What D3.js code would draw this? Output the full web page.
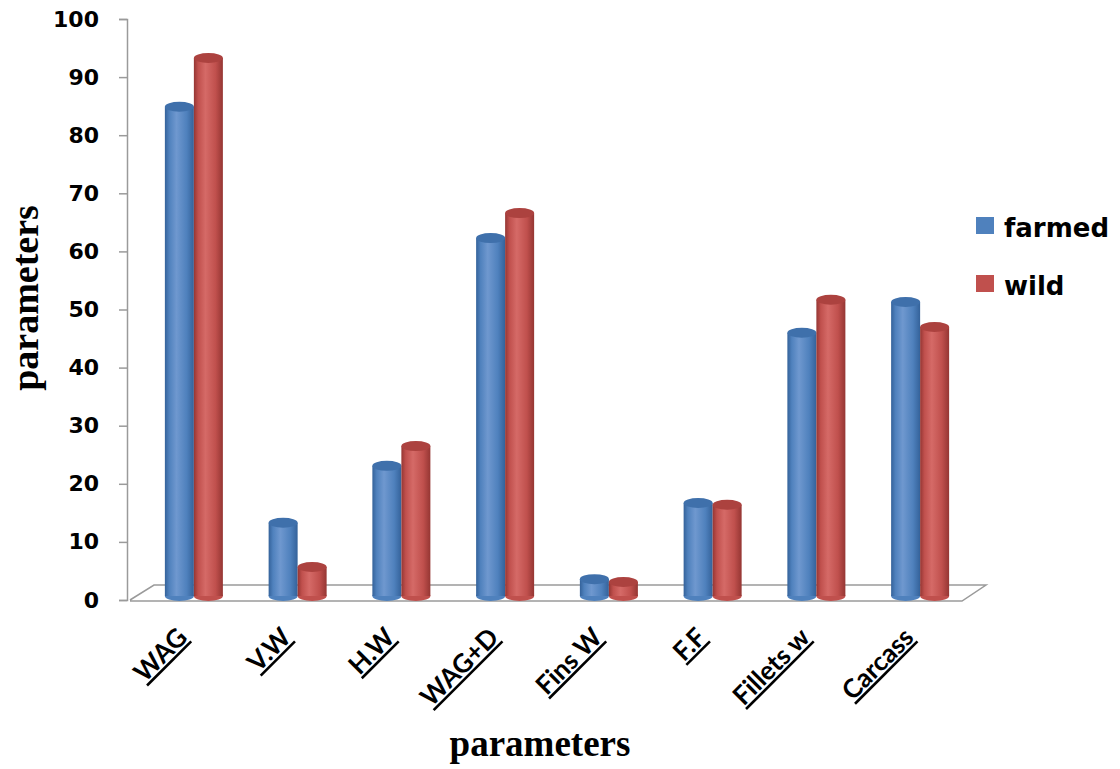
<!DOCTYPE html>
<html lang="en">
    <head>
        <meta charset="utf-8">
        <title>farmed vs wild parameters</title>
        <script type="text/javascript" src="https://cdn.jsdelivr.net/npm/d3@7"></script>
        <style type="text/css">
            body { margin: 0; background: #fff; }
        </style>
    </head>

    <body>
        <script type="text/javascript">
            var categories = ["WAG", "V.W", "H.W", "WAG+D", "Fins W", "F.F", "Fillets w", "Carcass"];
            var farmed = [84.2, 12.6, 22.4, 61.6, 2.9, 16.0, 45.3, 50.6];
            var wild = [92.6, 5.0, 25.8, 65.9, 2.4, 15.7, 51.0, 46.3];
            var yTicks = [0, 10, 20, 30, 40, 50, 60, 70, 80, 90, 100];
            var seriesNames = ["farmed", "wild"];

            var w = 1120;
            var h = 769;
            var svg = d3.select("body")
                        .append("svg")
                        .attr("width", w)
                        .attr("height", h);

            // y scale: 0 sits on the front edge of the floor
            var yScale = d3.scaleLinear()
                            .domain([0, 100])
                            .range([600, 19]);
            var xScale = d3.scaleBand()
                            .domain(categories)
                            .range([142, 972]);
            var depth = 4; // bars stand a little behind the front edge
            var barW = 29;

            var defs = svg.append("defs");
            var colors = {
                farmed: { light: "#6F98CF", mid: "#4F81BD", dark: "#34629A", top: "#3F70AB" },
                wild:   { light: "#D56A67", mid: "#C0504D", dark: "#953633", top: "#AC423F" }
            };
            seriesNames.forEach(function(s) {
                var g = defs.append("linearGradient")
                            .attr("id", "grad-" + s)
                            .attr("x1", "0%").attr("x2", "100%")
                            .attr("y1", "0%").attr("y2", "0%");
                g.append("stop").attr("offset", "0%").attr("stop-color", colors[s].dark);
                g.append("stop").attr("offset", "15%").attr("stop-color", colors[s].mid);
                g.append("stop").attr("offset", "40%").attr("stop-color", colors[s].light);
                g.append("stop").attr("offset", "75%").attr("stop-color", colors[s].mid);
                g.append("stop").attr("offset", "100%").attr("stop-color", colors[s].dark);
            });

            // floor
            var floor = svg.append("g");
            floor.append("path")
                .attr("d", "M130,600 L154,585 L986,585 L962,601 L130,601")
                .attr("fill", "#fff")
                .attr("stroke", "#9a9a9a")
                .attr("stroke-width", 1.5);

            // y axis
            var yAxis = d3.axisLeft(yScale)
                            .tickValues(yTicks)
                            .tickSize(8)
                            .tickPadding(20);
            var ya = svg.append("g")
                .attr("transform", "translate(127,0)")
                .call(yAxis);
            ya.select(".domain").attr("stroke", "#9a9a9a").attr("stroke-width", 1.5);
            ya.selectAll(".tick line").attr("stroke", "#9a9a9a").attr("stroke-width", 1.5);
            ya.selectAll(".tick text")
                .attr("font-family", "DejaVu Sans, Verdana, sans-serif")
                .attr("font-weight", "bold")
                .attr("font-size", "22px")
                .attr("fill", "#000");

            // cylinders
            var rows = [];
            categories.forEach(function(c, i) {
                rows.push({ cat: c, s: "farmed", v: farmed[i], k: 0 });
                rows.push({ cat: c, s: "wild", v: wild[i], k: 1 });
            });
            var bars = svg.append("g").selectAll("g")
                .data(rows)
                .enter()
                .append("g");
            function bx(d) {
                return xScale(d.cat) + xScale.bandwidth() / 2 - barW + d.k * barW;
            }
            var ry = 5;
            bars.append("ellipse")
                .attr("cx", function(d) { return bx(d) + barW / 2; })
                .attr("cy", yScale(0) - depth)
                .attr("rx", barW / 2)
                .attr("ry", ry)
                .attr("fill", function(d) { return colors[d.s].mid; });
            bars.append("rect")
                .attr("x", bx)
                .attr("y", function(d) { return yScale(d.v) - depth; })
                .attr("width", barW)
                .attr("height", function(d) { return yScale(0) - yScale(d.v); })
                .attr("fill", function(d) { return "url(#grad-" + d.s + ")"; });
            bars.append("ellipse")
                .attr("cx", function(d) { return bx(d) + barW / 2; })
                .attr("cy", function(d) { return yScale(d.v) - depth; })
                .attr("rx", barW / 2)
                .attr("ry", ry)
                .attr("fill", function(d) { return colors[d.s].top; });

            // x labels, rotated and underlined
            svg.append("g").selectAll("text")
                .data(categories)
                .enter()
                .append("text")
                .attr("transform", function(d) {
                    return "translate(" + (xScale(d) + xScale.bandwidth() / 2 - 5) + ",639) rotate(-45)";
                })
                .attr("text-anchor", "end")
                .attr("font-family", "Lato, Carlito, Calibri, sans-serif")
                .attr("font-weight", "bold")
                .attr("font-size", "26px")
                .attr("text-decoration", "underline")
                .attr("fill", "#000")
                .text(function(d) { return d; });

            // axis titles
            svg.append("text")
                .attr("x", 540)
                .attr("y", 756)
                .attr("text-anchor", "middle")
                .attr("font-family", "Liberation Serif, Times New Roman, serif")
                .attr("font-weight", "bold")
                .attr("font-size", "37px")
                .text("parameters");
            svg.append("text")
                .attr("transform", "translate(38,298) rotate(-90)")
                .attr("text-anchor", "middle")
                .attr("font-family", "Liberation Serif, Times New Roman, serif")
                .attr("font-weight", "bold")
                .attr("font-size", "38px")
                .text("parameters");

            // legend
            var legend = svg.append("g").selectAll("g")
                .data(seriesNames)
                .enter()
                .append("g")
                .attr("transform", function(d, i) { return "translate(976," + (217 + i * 58) + ")"; });
            legend.append("rect")
                .attr("width", 18)
                .attr("height", 17)
                .attr("fill", function(d) { return colors[d].mid; });
            legend.append("text")
                .attr("x", 28)
                .attr("y", 20)
                .attr("font-family", "DejaVu Sans, Verdana, sans-serif")
                .attr("font-weight", "bold")
                .attr("font-size", "26px")
                .text(function(d) { return d; });
        </script>
    </body>
</html>
